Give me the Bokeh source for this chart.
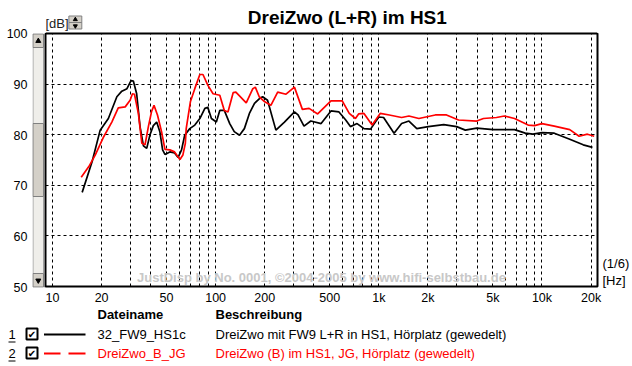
from bokeh.plotting import figure
from bokeh.layouts import column, row
from bokeh.models import Range1d, FixedTicker, Label
from bokeh.core.properties import value
from bokeh.embed import file_html
from bokeh.resources import INLINE

# ---- data ----
black_freq = [15.2, 17.5, 19.6, 22.0, 24.8, 26.6, 28.6, 30.3, 31.3, 32.8, 34.4, 36.1, 37.8, 39.6,
              41.5, 43.5, 45.5, 47.3, 48.9, 52.4, 56.0, 58.9, 61.8, 64.6, 69.4, 74.5, 80.0, 85.9,
              89.5, 94.2, 101, 106, 113, 122, 130, 140, 150, 161, 173, 185, 194, 208, 234, 264,
              304, 320, 348, 383, 443, 509, 570, 627, 670, 736, 811, 890, 1000, 1070, 1240, 1380,
              1530, 1710, 2010, 2500, 3000, 3390, 3980, 5020, 6790, 7900, 8800, 10000, 11900,
              14800, 17900, 20400]
black_db = [68.6, 74.7, 80.9, 83.2, 87.5, 88.6, 89.1, 90.7, 90.6, 88.1, 81.6, 77.8, 77.3, 80.0,
            81.8, 82.5, 80.6, 77.0, 76.1, 76.6, 76.4, 75.5, 77.0, 79.9, 81.2, 81.9, 83.2, 85.2,
            85.4, 83.2, 82.5, 84.8, 84.8, 82.2, 80.6, 79.9, 81.2, 84.2, 86.2, 87.1, 87.5, 86.8,
            80.9, 82.5, 84.5, 83.9, 81.7, 82.7, 82.2, 84.7, 84.5, 82.9, 81.6, 82.2, 81.2, 81.1,
            83.5, 83.4, 80.3, 82.2, 82.7, 81.2, 81.6, 82.0, 81.6, 80.9, 81.3, 81.0, 81.0, 80.3,
            80.1, 80.4, 80.3, 79.1, 78.0, 77.5]

red_freq = [15.0, 16.7, 18.3, 20.6, 23.1, 25.3, 27.9, 29.9, 30.9, 31.8, 33.6, 35.3, 36.9, 38.7,
            40.5, 41.9, 44.0, 46.6, 48.9, 52.4, 56.0, 60.4, 63.0, 65.2, 66.0, 70.0, 74.5, 80.0,
            83.6, 89.5, 96.4, 106, 113, 119, 128, 133, 154, 169, 175, 185, 200, 218, 240, 270,
            304, 340, 374, 422, 509, 597, 659, 719, 752, 811, 910, 1020, 1160, 1380, 1530, 1760,
            2220, 2600, 3080, 3980, 4380, 5260, 5890, 6790, 8230, 9000, 10000, 11900, 14800,
            16900, 19000, 20900]
red_db = [71.6, 73.7, 76.0, 79.6, 82.5, 85.3, 85.5, 86.8, 88.1, 88.0, 84.2, 78.3, 78.0, 81.6,
          84.6, 85.8, 83.9, 80.6, 77.1, 77.0, 76.6, 75.1, 76.0, 78.3, 81.2, 86.5, 89.1, 91.9,
          91.9, 89.8, 88.1, 87.8, 84.8, 84.5, 88.3, 88.4, 86.3, 89.1, 89.4, 87.5, 86.5, 85.8,
          88.4, 88.0, 89.4, 85.0, 85.2, 84.1, 86.7, 86.7, 84.2, 83.2, 84.1, 84.2, 81.9, 84.2,
          83.9, 83.4, 83.7, 83.2, 83.9, 83.9, 82.9, 82.7, 83.2, 83.4, 83.7, 83.2, 81.9, 81.8,
          82.2, 81.7, 81.0, 79.7, 80.1, 79.7]

x_tick_values = [10, 20, 50, 100, 200, 500, 1000, 2000, 5000, 10000, 20000]
x_tick_labels = ["10", "20", "50", "100", "200", "500", "1k", "2k", "5k", "10k", "20k"]
y_tick_values = [50, 60, 70, 80, 90, 100]
unit_tick_values = [54.5, 51.2]
unit_tick_labels = ["(1/6)", "[Hz]"]

title_text = "DreiZwo (L+R) im HS1"
y_unit_text = "[dB]"
legend_header = ["Dateiname", "Beschreibung"]
legend_names = ["32_FW9_HS1c", "DreiZwo_B_JG"]
legend_desc = ["DreiZwo mit FW9 L+R in HS1, Hörplatz (gewedelt)",
               "DreiZwo (B) im HS1, JG, Hörplatz (gewedelt)"]
series_colors = ["black", "#ff0000"]
watermark = "JustDisp by No. 0001, \u00a92004-2005 by www.hifi-selbstbau.de"

FONT = "Liberation Sans"
TOTAL_W = 632
LEFT_W = 45          # y labels + scrollbar column
TOP_H = 33           # title strip
MAIN_W = TOTAL_W - LEFT_W
FRAME_W = 555
FRAME_H = 254
BOTTOM_AX = 20
MID_H = FRAME_H + BOTTOM_AX
LEG_H = 366 - TOP_H - MID_H

X_RANGE = (9.06, 21900)
Y_RANGE = (50, 100)


def bare(fig):
    fig.xaxis.visible = False
    fig.yaxis.visible = False
    fig.xgrid.visible = False
    fig.ygrid.visible = False
    fig.outline_line_color = None
    fig.background_fill_color = "white"
    fig.border_fill_color = "white"


def style_axis(ax, size="13px"):
    ax.axis_line_color = None
    ax.major_tick_line_color = None
    ax.minor_tick_line_color = None
    ax.major_tick_out = 0
    ax.major_tick_in = 0
    ax.minor_tick_out = 0
    ax.minor_tick_in = 0
    ax.major_label_text_font = FONT
    ax.major_label_text_font_size = size
    ax.major_label_text_color = "black"


# ---------------- main chart ----------------
p = figure(width=MAIN_W, height=MID_H, x_axis_type="log", y_axis_location="right",
           x_range=Range1d(*X_RANGE), y_range=Range1d(*Y_RANGE),
           output_backend="svg", toolbar_location=None,
           min_border_left=0, min_border_right=MAIN_W - FRAME_W, min_border_top=0,
           min_border_bottom=BOTTOM_AX)
p.background_fill_color = "white"
p.border_fill_color = "white"
p.outline_line_color = "black"
p.outline_line_width = 2

style_axis(p.xaxis[0], "12.5px")
p.xaxis.ticker = FixedTicker(ticks=x_tick_values)
p.xaxis.major_label_overrides = {v: l for v, l in zip(x_tick_values, x_tick_labels)}
p.xaxis.major_label_standoff = 4

style_axis(p.yaxis[0], "13px")
p.yaxis.ticker = FixedTicker(ticks=unit_tick_values)
p.yaxis.major_label_overrides = {v: l for v, l in zip(unit_tick_values, unit_tick_labels)}
p.yaxis.major_label_standoff = 5

grid_x = [d * m for d in (10, 100, 1000, 10000) for m in range(1, 10) if d * m <= 20000]
p.xgrid.ticker = FixedTicker(ticks=grid_x)
p.ygrid.ticker = FixedTicker(ticks=[60, 70, 80, 90])
for g in (p.xgrid[0], p.ygrid[0]):
    g.grid_line_color = "black"
    g.grid_line_dash = "3 3"
    g.grid_line_width = 1

p.add_layout(Label(x=445, y=51.8, text=watermark, text_font=FONT, text_font_size="13px",
                   text_font_style="bold", text_color="#c8c8c8", text_align="center",
                   text_baseline="middle"))

p.line(black_freq, black_db, line_color=series_colors[0], line_width=1.7)
p.line(red_freq, red_db, line_color=series_colors[1], line_width=1.7)

# ---------------- left column: y labels + scrollbar ----------------
lf = figure(width=LEFT_W, height=TOP_H + MID_H, y_range=Range1d(*Y_RANGE),
            x_range=Range1d(0, 13), output_backend="svg", toolbar_location=None,
            min_border_left=32, min_border_right=0, min_border_top=TOP_H,
            min_border_bottom=BOTTOM_AX)
lf.extra_y_ranges = {"px": Range1d(FRAME_H, 0)}
lf.xaxis.visible = False
lf.xgrid.visible = False
lf.ygrid.visible = False
lf.outline_line_color = None
lf.background_fill_color = "white"
lf.border_fill_color = "white"
style_axis(lf.yaxis[0], "12.5px")
lf.yaxis.ticker = FixedTicker(ticks=y_tick_values)
lf.yaxis.major_label_standoff = 5

# scrollbar track, thumb, buttons
lf.quad(left=[0.5], right=[11], top=[0.5], bottom=[FRAME_H - 0.5], fill_color="#efeeea",
        line_color="#a0a0a0", line_width=1, y_range_name="px")
lf.quad(left=[0.5], right=[11], top=[90], bottom=[163], fill_color="#d4d0c8",
        line_color="#808080", line_width=1, y_range_name="px")
lf.quad(left=[0.5, 0.5], right=[11, 11], top=[0.5, 240], bottom=[14, FRAME_H - 0.5],
        fill_color="#d4d0c8", line_color="#808080", line_width=1, y_range_name="px")
lf.scatter(x=[5.8, 5.8], y=[7.5, 247], marker=["triangle", "inverted_triangle"], size=5,
           fill_color="black", line_color="black", y_range_name="px")
# outer half of the frame's left border
lf.quad(left=[12], right=[13], top=[-1], bottom=[FRAME_H], fill_color="black",
        line_color=None, y_range_name="px")

# ---------------- top strip: title, [dB] with spinner ----------------
# (its frame gets aligned with the chart frame below, so x units = px from the frame's left)
tf = figure(width=MAIN_W, height=TOP_H, x_range=Range1d(0, FRAME_W), y_range=Range1d(TOP_H, 0),
            output_backend="svg", toolbar_location=None,
            min_border_left=0, min_border_right=MAIN_W - FRAME_W, min_border_top=0,
            min_border_bottom=0)
bare(tf)
tf.text(x=[303.5], y=[17], text=[title_text], text_font=value(FONT), text_font_size="19px",
        text_font_style="bold", text_align="center", text_baseline="middle",
        text_color="black")
tf.text(x=[0], y=[22.5], text=[y_unit_text], text_font=value(FONT), text_font_size="13px",
        text_align="left", text_baseline="middle", text_color="#202020")
tf.quad(left=[23.5, 23.5], right=[36.5, 36.5], top=[15.5, 22], bottom=[22, 28.5],
        fill_color="#d4d0c8", line_color="#808080", line_width=1)
tf.scatter(x=[30, 30], y=[19, 25.5], marker=["triangle", "inverted_triangle"], size=4,
           fill_color="black", line_color="black")
# outer half of the frame's top border
tf.quad(left=[0], right=[FRAME_W], top=[32], bottom=[33], fill_color="black",
        line_color=None)

# ---------------- legend strip ----------------
lg = figure(width=TOTAL_W, height=LEG_H, x_range=Range1d(0, TOTAL_W), y_range=Range1d(LEG_H, 0),
            output_backend="svg", toolbar_location=None,
            min_border_left=0, min_border_right=0, min_border_top=0, min_border_bottom=0)
bare(lg)
HEAD_Y = 7
ROW_Y = [27, 46]
NAME_X = 97
DESC_X = 215
lg.text(x=[NAME_X, DESC_X], y=[HEAD_Y, HEAD_Y], text=legend_header, text_font=value(FONT),
        text_font_size="13px", text_font_style="bold", text_baseline="middle",
        text_color="black")
for i, (yy, nm, ds, col) in enumerate(zip(ROW_Y, legend_names, legend_desc, series_colors)):
    lg.text(x=[8], y=[yy], text=[str(i + 1)], text_font=value(FONT), text_font_size="13px",
            text_baseline="middle", text_color="black")
    lg.segment(x0=[8], y0=[yy + 7.5], x1=[15], y1=[yy + 7.5], line_color="black", line_width=1)
    lg.quad(left=[26], right=[37], top=[yy - 6], bottom=[yy + 5], fill_color="white",
            line_color="black", line_width=2)
    lg.text(x=[31.5], y=[yy], text=["\u2714"], text_font=value("DejaVu Sans"),
            text_font_size="10px", text_align="center", text_baseline="middle",
            text_color="black")
    if i == 0:
        lg.segment(x0=[43.5], y0=[yy], x1=[85], y1=[yy], line_color=col, line_width=2)
    else:
        lg.segment(x0=[43.5, 68], y0=[yy, yy], x1=[60, 85], y1=[yy, yy], line_color=col,
                   line_width=2)
    lg.text(x=[NAME_X, DESC_X], y=[yy, yy], text=[nm, ds], text_font=value(FONT),
            text_font_size="13px", text_baseline="middle", text_color=col)

layout = column(row(lf, column(tf, p, spacing=0), spacing=0), lg, spacing=0)

open("out.html", "w").write(file_html(layout, INLINE))
